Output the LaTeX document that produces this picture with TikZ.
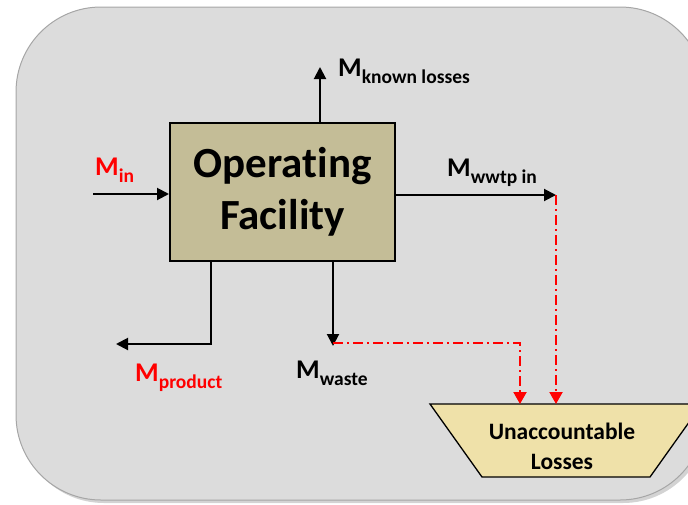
\documentclass[tikz,border=0pt]{standalone}
\usepackage{fontspec}
\setmainfont{Carlito}[Ligatures=NoCommon]
\usetikzlibrary{arrows.meta,positioning,shadows}
\definecolor{panelC}{RGB}{220,220,220}
\definecolor{plantC}{HTML}{C4BD97}
\definecolor{lossC}{HTML}{EFE1A9}
\definecolor{redC}{RGB}{255,0,0}
% mass flow label: big M with a lowered index
\newcommand{\mflow}[1]{{\fontsize{27}{27}\selectfont M}\raisebox{-7pt}{\fontsize{19.5}{19.5}\selectfont #1}}
\tikzset{
  flowlbl/.style={anchor=base west, inner sep=0pt, font=\bfseries, text=#1},
  flowlbl/.default=black,
  arr/.style={-{Triangle[length=12pt,width=12pt]}, line width=2pt},
  lossarr/.style={-{Triangle[length=12pt,width=13pt]}, line width=2pt, draw=redC,
                  dash pattern=on 10pt off 4pt on 2pt off 4pt},
}

\begin{document}
\begin{tikzpicture}[x=1pt,y=-1pt]
    \useasboundingbox (0,0) rectangle (688,504);
    % panel
    \path[fill=panelC, draw=gray!70, line width=1pt, rounded corners=85pt,
          drop shadow={shadow xshift=3pt, shadow yshift=-3pt, opacity=.35}]
      (16,7) rectangle (705,500);

    \node[draw, line width=2pt, fill=plantC, minimum width=225pt, minimum height=138pt,
          align=center, font=\fontsize{43}{52}\selectfont\bfseries] (fac) at (282.5,192)
      {Operating\\Facility};

    % loose ends of the flows
    \coordinate (in) at (93,194);
    \coordinate (known) at (320,67);
    \coordinate (wwtp) at (556,195);
    \coordinate (prodbend) at (211,344);
    \coordinate (prod) at (116,344);
    \coordinate (waste) at (333,346);
    \coordinate (wastebend) at (520,343);

    \draw[arr] (in) -- (in -| fac.west);
    \draw[arr] (fac.north -| known) -- (known);
    \draw[arr] (wwtp -| fac.east) -- (wwtp);
    \draw[arr] (fac.south -| prodbend) -- (prodbend) -- (prod);
    \draw[arr] (fac.south -| waste) -- (waste);

    % unaccounted part
    \draw[fill=lossC, line width=1.3pt] (430,404) coordinate (lossTL) -- (702,404)
      -- (650,477) -- (482,477) -- cycle;
    \node[align=center, font=\fontsize{23.5}{30}\selectfont\bfseries] (loss) at (562,446)
      {Unaccountable\\Losses};

    \draw[lossarr] (wwtp) -- (wwtp |- lossTL);
    \draw[lossarr] (wastebend -| waste) -- (wastebend) -- (wastebend |- lossTL);

    % labels
    \node[flowlbl=redC] (min) at (95,175) {\mflow{in}};
    \node[flowlbl] (mknown) at (338,76) {\mflow{known losses}};
    \node[flowlbl] (mwwtp) at (447,176) {\mflow{wwtp in}};
    \node[flowlbl=redC] (mprod) at (135,381) {\mflow{product}};
    \node[flowlbl] (mwaste) at (296,378) {\mflow{waste}};
\end{tikzpicture}
\end{document}
